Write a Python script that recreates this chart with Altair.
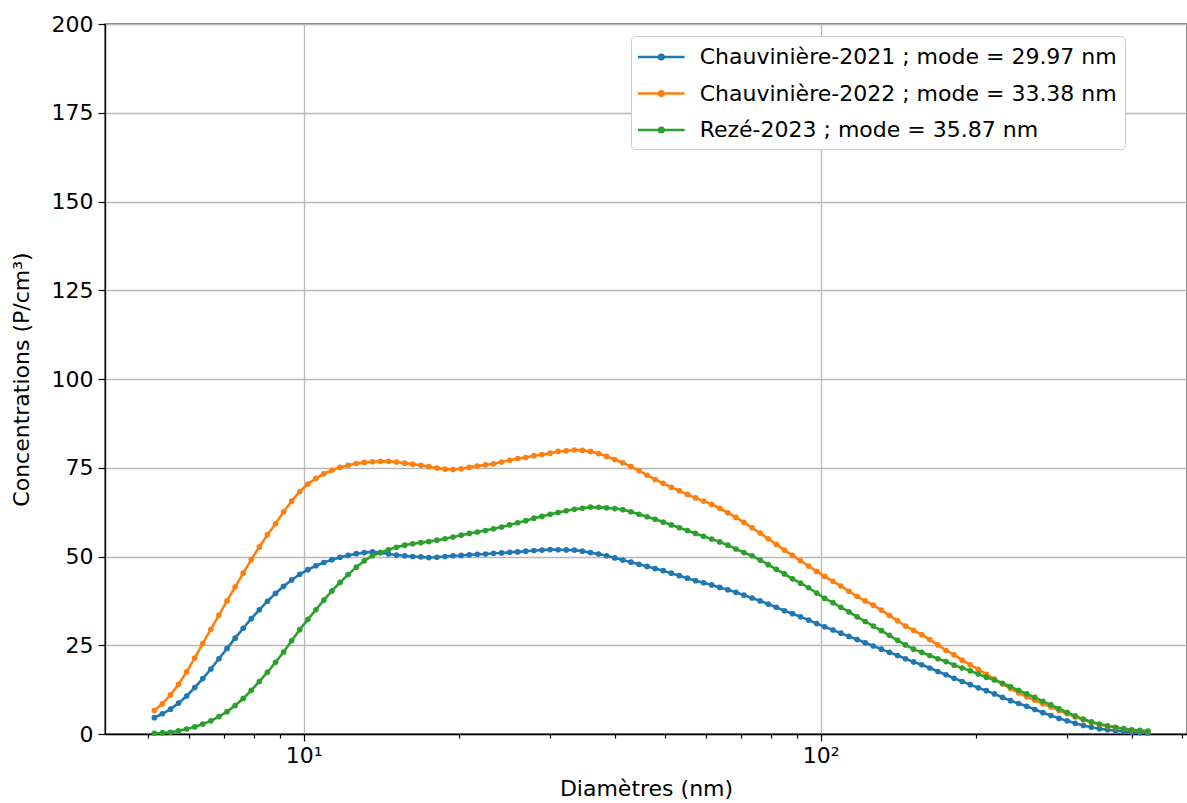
import altair as alt
import pandas as pd

# SMPS bin diameters (nm), 64 channels per decade
diameters = [
    5.142, 5.330, 5.526, 5.728, 5.938, 6.156, 6.381, 6.615, 6.857, 7.109,
    7.369, 7.639, 7.919, 8.209, 8.510, 8.822, 9.145, 9.480, 9.827, 10.19,
    10.56, 10.94, 11.34, 11.76, 12.19, 12.64, 13.10, 13.58, 14.07, 14.59,
    15.12, 15.68, 16.25, 16.85, 17.46, 18.10, 18.77, 19.45, 20.17, 20.91,
    21.67, 22.47, 23.29, 24.14, 25.03, 25.94, 26.89, 27.88, 28.90, 29.97,
    31.06, 32.20, 33.38, 34.60, 35.87, 37.18, 38.54, 39.96, 41.42, 42.94,
    44.51, 46.14, 47.83, 49.58, 51.40, 53.28, 55.23, 57.26, 59.35, 61.53,
    63.78, 66.12, 68.54, 71.05, 73.66, 76.35, 79.15, 82.05, 85.06, 88.17,
    91.40, 94.75, 98.22, 101.8, 105.6, 109.4, 113.4, 117.6, 121.9, 126.4,
    131.0, 135.8, 140.8, 145.9, 151.2, 156.8, 162.5, 168.5, 174.7, 181.1,
    187.7, 194.6, 201.7, 209.1, 216.7, 224.7, 232.9, 241.4, 250.3, 259.5,
    269.0, 278.8, 289.0, 299.6, 310.6, 322.0, 333.8, 346.0, 358.7, 371.8,
    385.5, 399.6, 414.2, 429.4,
]

chauviniere_2021 = [
    4.6, 5.7, 7.0, 8.7, 10.7, 13.1, 15.6, 18.3, 21.2, 24.1,
    27.0, 29.8, 32.5, 35.0, 37.4, 39.6, 41.6, 43.4, 45.0, 46.3,
    47.4, 48.3, 49.1, 49.8, 50.3, 50.8, 51.1, 51.3, 51.1, 50.7,
    50.4, 50.2, 50.0, 49.9, 49.7, 49.8, 50.0, 50.2, 50.3, 50.5,
    50.6, 50.7, 50.9, 51.0, 51.2, 51.3, 51.5, 51.7, 51.8, 51.95,
    51.9, 51.85, 51.8, 51.5, 51.1, 50.7, 50.2, 49.6, 49.0, 48.4,
    47.8, 47.2, 46.6, 46.0, 45.3, 44.6, 43.9, 43.2, 42.6, 42.0,
    41.3, 40.6, 39.9, 39.1, 38.3, 37.5, 36.6, 35.7, 34.7, 33.9,
    33.0, 32.1, 31.1, 30.2, 29.3, 28.4, 27.5, 26.6, 25.7, 24.8,
    23.9, 23.0, 22.1, 21.2, 20.3, 19.5, 18.6, 17.6, 16.7, 15.7,
    14.8, 13.9, 13.0, 12.2, 11.3, 10.3, 9.4, 8.6, 7.8, 6.9,
    6.0, 5.2, 4.4, 3.7, 3.0, 2.4, 1.9, 1.5, 1.2, 0.9,
    0.7, 0.5, 0.4, 0.3,
]

chauviniere_2022 = [
    6.6, 8.5, 11.0, 14.0, 17.5, 21.4, 25.5, 29.5, 33.5, 37.5,
    41.4, 45.3, 49.1, 52.7, 56.1, 59.2, 62.6, 65.6, 68.3, 70.4,
    72.0, 73.3, 74.3, 75.1, 75.7, 76.2, 76.5, 76.7, 76.8, 76.8,
    76.6, 76.3, 76.0, 75.7, 75.3, 74.9, 74.6, 74.5, 74.7, 75.1,
    75.5, 75.8, 76.1, 76.6, 77.1, 77.6, 77.9, 78.4, 78.7, 79.1,
    79.6, 79.8, 80.0, 79.9, 79.6, 79.0, 78.2, 77.3, 76.4, 75.3,
    74.2, 72.9, 71.7, 70.6, 69.5, 68.5, 67.5, 66.5, 65.6, 64.7,
    63.6, 62.3, 61.0, 59.6, 58.1, 56.6, 55.0, 53.4, 51.8, 50.3,
    48.8, 47.3, 45.8, 44.4, 43.0, 41.7, 40.2, 38.8, 37.5, 36.3,
    34.9, 33.4, 31.9, 30.4, 29.2, 28.0, 26.6, 25.1, 23.6, 22.3,
    20.8, 19.5, 18.2, 16.8, 15.5, 14.1, 12.8, 11.6, 10.5, 9.5,
    8.5, 7.6, 6.6, 5.7, 4.8, 4.0, 3.3, 2.7, 2.2, 1.8,
    1.4, 1.1, 0.9, 0.7,
]

reze_2023 = [
    0.2, 0.3, 0.5, 0.9, 1.4, 2.0, 2.8, 3.7, 4.9, 6.3,
    8.0, 10.0, 12.3, 14.8, 17.4, 20.2, 23.1, 26.3, 29.4, 32.3,
    35.0, 37.7, 40.3, 42.7, 44.9, 47.0, 48.8, 50.2, 51.1, 51.9,
    52.6, 53.2, 53.6, 53.9, 54.2, 54.6, 55.0, 55.5, 56.0, 56.5,
    56.9, 57.3, 57.8, 58.3, 58.9, 59.5, 60.1, 60.8, 61.3, 61.9,
    62.4, 62.9, 63.3, 63.6, 63.9, 63.85, 63.7, 63.5, 63.2, 62.6,
    61.9, 61.2, 60.5, 59.7, 58.9, 58.1, 57.3, 56.5, 55.7, 54.9,
    54.1, 53.2, 52.1, 51.1, 50.2, 49.0, 47.7, 46.4, 45.1, 43.7,
    42.5, 41.2, 39.7, 38.2, 37.0, 35.7, 34.4, 33.0, 31.7, 30.4,
    29.1, 27.8, 26.4, 25.1, 23.9, 23.0, 22.1, 21.2, 20.4, 19.4,
    18.6, 17.8, 16.9, 16.0, 15.2, 14.3, 13.3, 12.3, 11.3, 10.3,
    9.2, 8.2, 7.1, 6.1, 5.1, 4.2, 3.4, 2.8, 2.3, 1.9,
    1.5, 1.2, 1.0, 0.8,
]

series_names = [
    "Chauvinière-2021 ; mode = 29.97 nm",
    "Chauvinière-2022 ; mode = 33.38 nm",
    "Rezé-2023 ; mode = 35.87 nm",
]
series_colors = ["#1f77b4", "#ff7f0e", "#2ca02c"]

x_tick_values = [5, 6, 7, 8, 9, 10, 20, 30, 40, 50, 60, 70, 80, 90, 100, 200, 300, 400, 500]
y_tick_values = [0, 25, 50, 75, 100, 125, 150, 175, 200]

rows = []
for name, vals in zip(series_names, [chauviniere_2021, chauviniere_2022, reze_2023]):
    for d, v in zip(diameters, vals):
        rows.append({"Diametre": d, "Concentration": v, "Serie": name})
df = pd.DataFrame(rows)

FONT = "DejaVu Sans"
major_test = "datum.value == 10 || datum.value == 100"

x_enc = alt.X(
    "Diametre:Q",
    scale=alt.Scale(type="log", domain=[4.128, 511], nice=False),
    axis=alt.Axis(
        title="Diamètres (nm)",
        values=x_tick_values,
        labelExpr="datum.value == 10 ? '10¹' : (datum.value == 100 ? '10²' : '')",
        tickSize={"condition": {"test": major_test, "value": 7}, "value": 4},
        gridOpacity={"condition": {"test": major_test, "value": 1}, "value": 0},
        labelOverlap=False,
        labelFlush=False,
        labelPadding=4,
        titlePadding=12,
    ),
)
y_enc = alt.Y(
    "Concentration:Q",
    scale=alt.Scale(domain=[0, 200], nice=False),
    axis=alt.Axis(
        title="Concentrations (P/cm³)",
        values=y_tick_values,
        tickSize=7,
        labelPadding=5,
        titlePadding=18,
    ),
)
color_enc = alt.Color(
    "Serie:N",
    scale=alt.Scale(domain=series_names, range=series_colors),
    legend=alt.Legend(
        title=None,
        orient="none",
        legendX=526,
        legendY=12,
        symbolType="M-1.2,0H2.8M0.6,0A0.2,0.2 0 1,1 1.0,0A0.2,0.2 0 1,1 0.6,0",
        symbolSize=543,
        symbolStrokeWidth=2.5,
        labelFontSize=22,
        labelFont=FONT,
        labelColor="black",
        labelLimit=0,
        labelOffset=34.7,
        rowPadding=12.5,
        padding=8,
        fillColor="white",
        strokeColor="#cccccc",
        cornerRadius=4,
    ),
)

chart = (
    alt.Chart(df)
    .mark_line(
        strokeWidth=2.6,
        point=alt.OverlayMarkDef(filled=True, size=32),
    )
    .encode(x=x_enc, y=y_enc, color=color_enc)
    .properties(
        width=1082,
        height=710,
        autosize="none",
        padding={"left": 105, "top": 24, "right": 0, "bottom": 69},
        background="white",
    )
    .configure_view(stroke="black", strokeWidth=1.3)
    .configure_axis(
        labelFont=FONT,
        titleFont=FONT,
        labelFontSize=22,
        titleFontSize=22,
        titleFontWeight="normal",
        labelColor="black",
        titleColor="black",
        domainColor="black",
        domainWidth=1.3,
        tickColor="black",
        tickWidth=1.2,
        gridColor="#b8b8b8",
        gridWidth=1.3,
    )
)

chart.save("out.html", embed_options={"renderer": "svg", "actions": False})
